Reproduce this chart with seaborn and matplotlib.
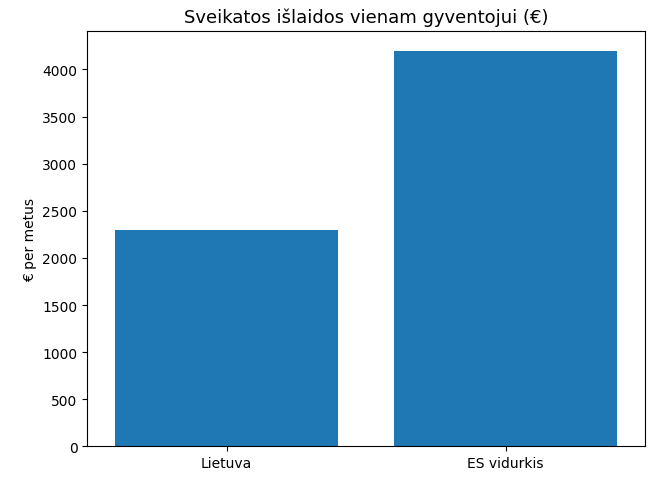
import matplotlib
matplotlib.use("Agg")
import matplotlib.pyplot as plt
import seaborn as sns
import pandas as pd

categories = ["Lietuva", "ES vidurkis"]
values = [2300, 4200]

df = pd.DataFrame({"cat": categories, "val": values})
fig, ax = plt.subplots(figsize=(6.7, 4.89), dpi=100)
sns.barplot(data=df, x="cat", y="val", color="#1f77b4", saturation=1, width=0.8, ax=ax)
ax.set_title("Sveikatos išlaidos vienam gyventojui (€)", fontsize=13)
ax.set_ylabel("€ per metus")
ax.set_xlabel("")
ax.set_yticks(range(0, 4001, 500))
fig.subplots_adjust(left=0.13, right=0.963, top=0.935, bottom=0.085)
fig.savefig("out.png")
